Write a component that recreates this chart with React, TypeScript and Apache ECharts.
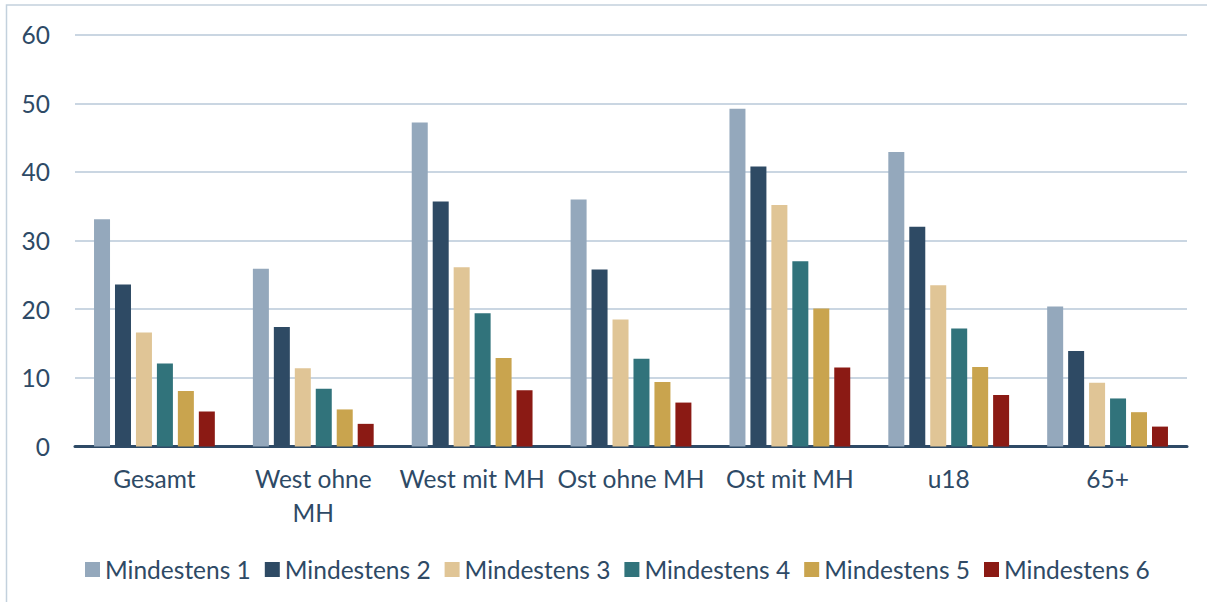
import React, { useEffect, useRef } from "react";
import * as echarts from "echarts";

const categories = ["Gesamt", "West ohne MH", "West mit MH", "Ost ohne MH", "Ost mit MH", "u18", "65+"];
const seriesNames = ["Mindestens 1", "Mindestens 2", "Mindestens 3", "Mindestens 4", "Mindestens 5", "Mindestens 6"];
const mindestens1 = [33.1, 25.9, 47.2, 36.0, 49.2, 42.9, 20.4];
const mindestens2 = [23.6, 17.4, 35.7, 25.8, 40.8, 32.0, 13.9];
const mindestens3 = [16.6, 11.4, 26.1, 18.5, 35.2, 23.5, 9.3];
const mindestens4 = [12.1, 8.4, 19.4, 12.8, 27.0, 17.2, 7.0];
const mindestens5 = [8.1, 5.4, 12.9, 9.4, 20.1, 11.6, 5.0];
const mindestens6 = [5.1, 3.3, 8.2, 6.4, 11.5, 7.5, 2.9];
const seriesColors = ["#94a8bc", "#2e4a64", "#e0c596", "#31737b", "#c9a44e", "#8b1a14"];

const TEXT = "#2e4a66";
const FONT = "Lato, 'Noto Sans', sans-serif";
const FS = 24.5;

export default function App() {
  const ref = useRef<HTMLDivElement>(null);
  useEffect(() => {
    document.body.style.margin = "0";
    if (!ref.current) return;
    const chart = echarts.init(ref.current, null, { renderer: "svg" });
    const values = [mindestens1, mindestens2, mindestens3, mindestens4, mindestens5, mindestens6];
    chart.setOption({
      animation: false,
      backgroundColor: "#ffffff",
      textStyle: { fontFamily: FONT },
      graphic: [
        {
          type: "rect",
          shape: { x: 6.5, y: 5, width: 1240, height: 640 },
          style: { fill: "none", stroke: "#c3d1dd", lineWidth: 1.5 },
          silent: true,
        },
      ],
      grid: { left: 75, right: 20, top: 34.7, bottom: 155.5, containLabel: false },
      legend: {
        left: 80,
        top: 552,
        itemWidth: 15,
        itemHeight: 15,
        itemGap: 14,
        icon: "rect",
        textStyle: { color: TEXT, fontSize: FS, fontFamily: FONT },
        data: seriesNames,
      },
      xAxis: {
        type: "category",
        data: categories,
        axisLine: { show: true, lineStyle: { color: "#2e4a66", width: 3 } },
        axisTick: { show: false },
        axisLabel: {
          color: TEXT,
          fontSize: FS,
          fontFamily: FONT,
          margin: 15,
          lineHeight: 34,
          interval: 0,
          formatter: (v: string) => (v === "West ohne MH" ? "West ohne\nMH" : v),
        },
      },
      yAxis: {
        type: "value",
        min: 0,
        max: 60,
        interval: 10,
        axisLine: { show: false },
        axisTick: { show: false },
        axisLabel: { color: TEXT, fontSize: FS, fontFamily: FONT, margin: 25 },
        splitLine: { lineStyle: { color: "#b8c9d9", width: 1.5 } },
      },
      series: seriesNames.map((name, i) => ({
        name,
        type: "bar",
        data: values[i],
        barWidth: 16,
        barGap: "31%",
        itemStyle: { color: seriesColors[i] },
      })),
    });
    return () => chart.dispose();
  }, []);
  return <div ref={ref} style={{ width: 1207, height: 602 }} />;
}
